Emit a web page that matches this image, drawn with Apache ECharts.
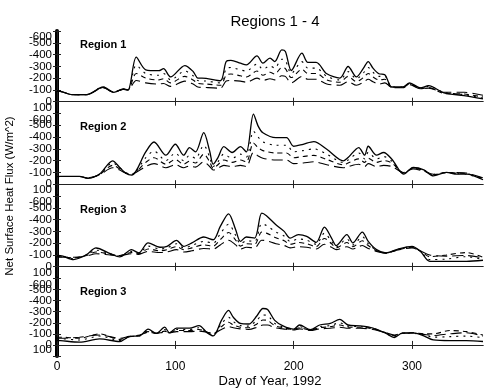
<!DOCTYPE html>
<html>
<head>
<meta charset="utf-8">
<script src="https://cdn.jsdelivr.net/npm/echarts@6/dist/echarts.min.js"></script>
<style>
  html, body { margin: 0; padding: 0; background: #fff; }
  #chart { width: 485px; height: 389px; }
</style>
</head>
<body>
<div id="chart"></div>
<script>
// day of year for each sample, one list per panel
const DAYS1 = [0, 3, 13, 25, 39, 48, 56, 60, 67, 75, 86, 90, 96, 108, 115, 119, 126, 138, 143, 147, 155, 160, 169, 174, 180, 184, 190, 193, 198, 207, 212, 219, 228, 239, 246, 253, 259, 263, 267, 272, 277, 283, 292, 298, 307, 314, 327, 344, 360]
const SOLID1 = [-90, -88, -60, -60, -125, -80, -108, -100, -378, -271, -263, -280, -210, -307, -257, -201, -198, -178, -341, -350, -327, -313, -389, -327, -370, -341, -440, -426, -265, -412, -333, -333, -237, -201, -299, -210, -285, -341, -285, -237, -229, -125, -125, -159, -117, -136, -75, -52, -24]
const DOT1 = [-90, -88, -60, -60, -125, -80, -108, -100, -310, -240, -225, -240, -185, -260, -220, -180, -175, -160, -280, -290, -270, -260, -320, -275, -305, -285, -360, -350, -240, -340, -285, -285, -215, -185, -255, -195, -245, -290, -250, -215, -215, -125, -125, -155, -117, -130, -80, -60, -30]
const DASH1 = [-90, -88, -60, -60, -120, -80, -105, -100, -240, -200, -185, -195, -160, -215, -185, -155, -150, -140, -225, -235, -220, -210, -260, -225, -250, -235, -290, -280, -205, -275, -240, -240, -185, -165, -215, -170, -205, -240, -210, -185, -190, -120, -120, -150, -110, -120, -70, -65, -40]
const LONG1 = [-90, -88, -60, -60, -118, -82, -105, -100, -180, -160, -150, -155, -130, -175, -150, -125, -120, -115, -175, -180, -175, -165, -200, -180, -195, -185, -220, -215, -160, -215, -190, -190, -150, -140, -170, -140, -165, -190, -170, -150, -160, -120, -118, -145, -110, -115, -80, -80, -55]

const DAYS2 = [0, 3, 19, 26, 36, 47, 53, 58, 63, 75, 82, 92, 100, 107, 112, 117, 124, 129, 132, 136, 141, 148, 155, 160, 166, 170, 174, 185, 194, 200, 208, 217, 228, 242, 246, 255, 260, 263, 270, 276, 283, 293, 301, 310, 318, 329, 338, 346, 360]
const SOLID2 = [-65, -66, -66, -49, -86, -198, -142, -94, -77, -274, -358, -246, -339, -246, -311, -274, -437, -282, -170, -226, -319, -269, -319, -274, -595, -493, -437, -395, -395, -322, -339, -361, -296, -198, -226, -311, -246, -322, -246, -269, -212, -86, -142, -122, -71, -100, -86, -86, -38]
const DOT2 = [-65, -66, -66, -50, -85, -180, -140, -95, -80, -225, -280, -200, -265, -200, -245, -220, -330, -230, -150, -190, -255, -220, -255, -230, -450, -400, -360, -330, -330, -275, -285, -300, -255, -185, -205, -265, -215, -270, -215, -235, -195, -90, -140, -120, -75, -100, -90, -85, -45]
const DASH2 = [-65, -66, -66, -52, -82, -160, -130, -95, -85, -185, -225, -170, -210, -170, -195, -180, -255, -190, -135, -165, -205, -185, -205, -190, -350, -310, -285, -265, -265, -225, -235, -245, -210, -165, -180, -215, -185, -220, -185, -200, -180, -95, -135, -115, -80, -100, -95, -90, -50]
const LONG2 = [-65, -66, -66, -55, -80, -140, -120, -95, -88, -150, -175, -140, -165, -140, -155, -145, -190, -150, -120, -135, -160, -150, -160, -150, -270, -240, -220, -205, -205, -175, -180, -190, -165, -140, -150, -170, -150, -175, -150, -160, -150, -100, -130, -110, -85, -100, -100, -95, -55]

const DAYS3 = [0, 3, 14, 25, 33, 45, 53, 63, 69, 77, 87, 93, 101, 107, 114, 124, 132, 138, 145, 151, 155, 160, 167, 173, 177, 185, 192, 197, 204, 211, 219, 226, 232, 236, 245, 250, 258, 263, 270, 278, 287, 300, 307, 315, 329, 346, 360]
const SOLID3 = [-95, -94, -61, -103, -159, -111, -83, -145, -117, -202, -165, -173, -224, -173, -202, -252, -229, -342, -449, -314, -215, -252, -243, -454, -432, -356, -300, -243, -272, -258, -207, -336, -243, -179, -272, -202, -294, -215, -145, -117, -145, -173, -131, -46, -46, -46, -55]
const DOT3 = [-95, -94, -70, -100, -140, -110, -90, -130, -115, -175, -150, -160, -195, -160, -180, -215, -200, -280, -360, -265, -195, -220, -215, -365, -350, -295, -260, -215, -235, -225, -190, -285, -215, -170, -235, -185, -255, -195, -140, -115, -145, -170, -130, -60, -65, -85, -60]
const DASH3 = [-90, -85, -75, -95, -125, -105, -95, -120, -110, -150, -135, -145, -170, -145, -160, -185, -175, -230, -290, -225, -175, -195, -190, -295, -285, -245, -220, -190, -205, -195, -170, -240, -195, -160, -205, -170, -220, -180, -135, -115, -140, -165, -135, -85, -100, -120, -80]
const LONG3 = [-85, -80, -80, -90, -110, -100, -95, -110, -105, -130, -120, -125, -145, -125, -135, -155, -150, -185, -225, -185, -150, -165, -160, -225, -220, -195, -180, -160, -170, -165, -150, -190, -165, -145, -170, -150, -180, -155, -130, -115, -140, -160, -135, -100, -90, -95, -75]

const DAYS4 = [0, 3, 19, 36, 53, 61, 70, 77, 84, 91, 95, 101, 112, 120, 127, 132, 139, 145, 149, 155, 162, 169, 174, 178, 184, 191, 200, 205, 214, 222, 231, 239, 246, 256, 267, 278, 285, 292, 301, 310, 318, 332, 346, 360]
const SOLID4 = [-40, -39, -25, -54, -31, -76, -82, -143, -104, -160, -109, -152, -152, -174, -109, -82, -222, -312, -250, -194, -189, -264, -329, -320, -222, -172, -143, -180, -138, -180, -194, -231, -180, -172, -152, -104, -67, -109, -109, -82, -45, -39, -39, -31]
const DOT4 = [-55, -55, -45, -80, -40, -75, -82, -130, -105, -140, -110, -140, -140, -155, -110, -90, -190, -250, -210, -175, -170, -225, -270, -265, -195, -160, -140, -165, -135, -165, -175, -200, -170, -165, -150, -105, -75, -105, -105, -90, -70, -75, -80, -65]
const DASH4 = [-70, -70, -60, -100, -50, -75, -85, -120, -105, -125, -110, -130, -130, -140, -115, -100, -165, -205, -180, -160, -155, -190, -225, -220, -175, -155, -140, -155, -135, -155, -165, -180, -160, -160, -145, -110, -85, -105, -110, -100, -100, -130, -120, -90]
const LONG4 = [-60, -60, -70, -90, -60, -78, -90, -115, -105, -115, -110, -120, -120, -125, -115, -105, -140, -165, -155, -145, -140, -160, -180, -180, -155, -145, -135, -145, -130, -145, -150, -160, -150, -150, -140, -110, -90, -105, -108, -95, -85, -100, -110, -80]

const PANEL_LABELS = ['Region 1', 'Region 2', 'Region 3', 'Region 3']
const Y_TICKS = [-600, -500, -400, -300, -200, -100, 0, 100]
// tick labels split over two label layers so none gets dropped
const Y_LABELS_A = [-600, -400, -300, -100, 100]
const Y_LABELS_B = [-500, -200, 0]
const X_TICKS = [0, 100, 200, 300]

const panels = [
  { days: DAYS1, lines: [SOLID1, DOT1, DASH1, LONG1] },
  { days: DAYS2, lines: [SOLID2, DOT2, DASH2, LONG2] },
  { days: DAYS3, lines: [SOLID3, DOT3, DASH3, LONG3] },
  { days: DAYS4, lines: [SOLID4, DOT4, DASH4, LONG4] }
]

const FONT = '"Liberation Sans", Arial, Helvetica, sans-serif'
const LEFT = 57
const RIGHT = 2
const TOPS = [31, 113.5, 196, 278.5]
const H = 82.5
const dashTypes = ['solid', [2, 5], [5, 4], [11, 5]]
const widths = [1.3, 1.1, 1.1, 1.1]

const chart = echarts.init(document.getElementById('chart'), null, { renderer: 'canvas' })

const grids = []
const xAxes = []
const yAxes = []
const series = []

const yLabelStyle = {
  color: '#000', fontFamily: FONT, fontSize: 11.5, margin: 5,
  hideOverlap: false, interval: 0,
  showMinLabel: true, showMaxLabel: true,
  verticalAlignMinLabel: 'top',
  verticalAlignMaxLabel: 'bottom'
}

panels.forEach((p, i) => {
  grids.push({ left: LEFT, right: RIGHT, top: TOPS[i], height: H })
  const isLast = i === panels.length - 1
  xAxes.push({
    gridIndex: i, type: 'value', position: 'bottom',
    min: 0, max: 360, interval: 100,
    axisLine: { show: true, lineStyle: { color: '#222', width: 1 } },
    axisTick: { show: true, inside: true, length: 4, lineStyle: { color: '#222' }, customValues: X_TICKS },
    axisLabel: {
      show: isLast, color: '#000', fontFamily: FONT, fontSize: 12, margin: 5,
      customValues: X_TICKS
    },
    splitLine: { show: false },
    name: isLast ? 'Day of Year, 1992' : '',
    nameLocation: 'middle', nameGap: 19,
    nameTextStyle: { fontFamily: FONT, fontSize: 13, color: '#000' }
  })
  xAxes.push({
    gridIndex: i, type: 'value', position: 'top',
    min: 0, max: 360, interval: 100,
    axisLine: { show: true, lineStyle: { color: '#222', width: 1 } },
    axisTick: { show: true, inside: true, length: 4, lineStyle: { color: '#222' }, customValues: X_TICKS },
    axisLabel: { show: false },
    splitLine: { show: false }
  })
  // main left axis: thick line, ticks, first label layer
  yAxes.push({
    gridIndex: i, type: 'value', position: 'left', inverse: true,
    min: -600, max: 100, interval: 100,
    axisLine: { show: true, lineStyle: { color: '#000', width: 4 } },
    axisTick: { show: true, inside: true, length: 4, lineStyle: { color: '#222' }, customValues: Y_TICKS },
    axisLabel: Object.assign({ customValues: Y_LABELS_A }, yLabelStyle),
    splitLine: { show: false }
  })
  // right frame axis
  yAxes.push({
    gridIndex: i, type: 'value', position: 'right', inverse: true,
    min: -600, max: 100, interval: 100,
    axisLine: { show: true, lineStyle: { color: '#222', width: 1 } },
    axisTick: { show: true, inside: true, length: 4, lineStyle: { color: '#222' }, customValues: Y_TICKS },
    axisLabel: { show: false },
    splitLine: { show: false }
  })
  // second label layer on the left
  yAxes.push({
    gridIndex: i, type: 'value', position: 'left', offset: 0, inverse: true,
    min: -600, max: 100, interval: 100,
    axisLine: { show: false },
    axisTick: { show: false },
    axisLabel: Object.assign({ customValues: Y_LABELS_B }, yLabelStyle, {
      verticalAlignMinLabel: null, verticalAlignMaxLabel: null
    }),
    splitLine: { show: false }
  })
  p.lines.forEach((vals, k) => {
    series.push({
      type: 'line',
      xAxisIndex: i * 2,
      yAxisIndex: i * 3,
      data: p.days.map((d, j) => [d, vals[j]]),
      showSymbol: false,
      smooth: 0.3,
      silent: true,
      z: 10 - k,
      lineStyle: { color: '#000', width: widths[k], type: dashTypes[k] }
    })
  })
})

const graphics = [
  {
    type: 'text', x: 10, y: 196,
    rotation: Math.PI / 2,
    style: {
      text: 'Net Surface Heat Flux (W/m^2)',
      font: '11.5px ' + FONT, fill: '#000',
      textAlign: 'center', textVerticalAlign: 'middle'
    }
  }
]
PANEL_LABELS.forEach((t, i) => {
  graphics.push({
    type: 'text', left: 80, top: TOPS[i] + 8,
    style: { text: t, font: 'bold 11px ' + FONT, fill: '#000' }
  })
})

chart.setOption({
  animation: false,
  backgroundColor: '#fff',
  title: {
    text: 'Regions 1 - 4',
    left: 270, top: 9, textAlign: 'center',
    textStyle: { fontFamily: FONT, fontSize: 15, fontWeight: 'normal', color: '#000' }
  },
  grid: grids,
  xAxis: xAxes,
  yAxis: yAxes,
  series: series,
  graphic: graphics
})
</script>
</body>
</html>
